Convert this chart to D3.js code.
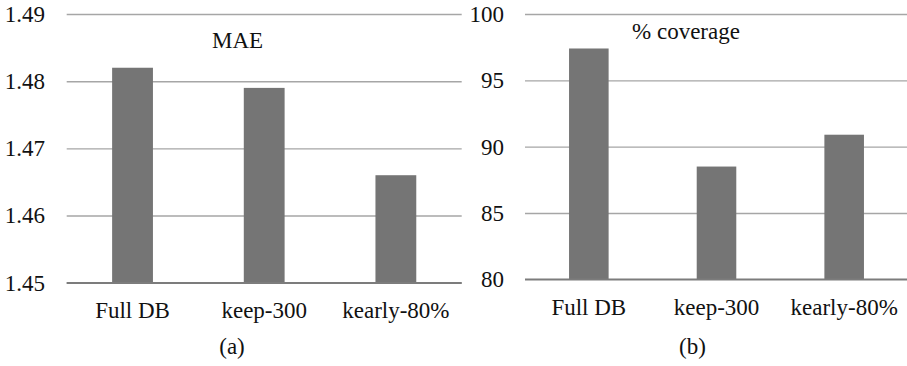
<!DOCTYPE html>
<html>
<head>
<meta charset="utf-8">
<script src="https://cdn.jsdelivr.net/npm/d3@7"></script>
<style>
  html, body { margin: 0; padding: 0; background: #fff; }
  svg { display: block; }
  svg text { font-family: 'Liberation Serif', 'Times New Roman', Times, 'DejaVu Serif', serif !important; fill: #111; }
</style>
</head>
<body>
<svg id="chart" width="907" height="366"></svg>
<script>
// Methods compared in both panels
const categories = ["Full DB", "keep-300", "kearly-80%"];

// Panel (a): mean absolute error
const maeValues = [1.482, 1.479, 1.466];
const maeTicks = [1.45, 1.46, 1.47, 1.48, 1.49];

// Panel (b): percentage of coverage
const coverageValues = [97.4, 88.5, 90.9];
const coverageTicks = [80, 85, 90, 95, 100];

const svg = d3.select("#chart");
const FONT = 23;
const SERIF = "'Liberation Serif', 'Times New Roman', Times, 'DejaVu Serif', serif";
const BAR = "#757575";
const GRID = "#a6a6a6";
const BASE = "#7c7c7c";

function panel(opts) {
  const x = d3.scaleBand()
    .domain(categories)
    .range([opts.x0, opts.x1])
    .paddingInner(0.69)
    .paddingOuter(0.345);
  const y = d3.scaleLinear()
    .domain([opts.ticks[0], opts.ticks[opts.ticks.length - 1]])
    .range([opts.yBottom, opts.yTop]);

  const g = svg.append("g");

  // value axis with horizontal gridlines
  const yAxis = d3.axisLeft(y)
    .tickValues(opts.ticks)
    .tickFormat(opts.format)
    .tickSize(-(opts.x1 - opts.x0))
    .tickPadding(opts.x0 - opts.labelEnd);
  const ya = g.append("g")
    .attr("transform", `translate(${opts.x0},0)`)
    .call(yAxis)
    .attr("font-family", null)
    .attr("font-size", null);
  ya.select(".domain").remove();
  ya.selectAll(".tick line")
    .attr("stroke", (d, i) => i === 0 ? BASE : GRID)
    .attr("stroke-width", 1.4);
  ya.selectAll(".tick text")
    .style("font-size", FONT + "px")
    .style("font-family", SERIF);

  // bars
  g.append("g").selectAll("rect")
    .data(opts.values)
    .join("rect")
    .attr("x", (d, i) => x(categories[i]))
    .attr("width", x.bandwidth())
    .attr("y", d => y(d))
    .attr("height", d => y(opts.ticks[0]) - y(d))
    .attr("fill", BAR);

  // redraw baseline over the bars
  g.append("line")
    .attr("x1", opts.x0).attr("x2", opts.x1)
    .attr("y1", y(opts.ticks[0])).attr("y2", y(opts.ticks[0]))
    .attr("stroke", BASE).attr("stroke-width", 1.4);

  // category axis
  const xAxis = d3.axisBottom(x).tickSize(0).tickPadding(0);
  const xa = g.append("g")
    .attr("transform", `translate(0,${opts.yBottom})`)
    .call(xAxis)
    .attr("font-family", null)
    .attr("font-size", null);
  xa.select(".domain").remove();
  xa.selectAll(".tick text")
    .attr("dy", null)
    .attr("y", 35.5)
    .style("font-size", FONT + "px")
    .style("font-family", SERIF);

  // chart title
  g.append("text")
    .attr("x", opts.titleX).attr("y", opts.titleY)
    .attr("text-anchor", "middle")
    .style("font-size", FONT + "px")
    .style("font-family", SERIF)
    .text(opts.title);

  // panel label
  g.append("text")
    .attr("x", opts.subX).attr("y", 354)
    .attr("text-anchor", "middle")
    .style("font-size", FONT + "px")
    .style("font-family", SERIF)
    .text(opts.sub);
}

panel({
  x0: 66.7, x1: 461.7, yTop: 14, yBottom: 282.7, labelEnd: 45,
  ticks: maeTicks, values: maeValues, format: d3.format(".2f"),
  title: "MAE", titleX: 237.5, titleY: 48.3,
  sub: "(a)", subX: 232
});

panel({
  x0: 525, x1: 908, yTop: 14, yBottom: 279.3, labelEnd: 504,
  ticks: coverageTicks, values: coverageValues, format: d3.format("d"),
  title: "% coverage", titleX: 686, titleY: 39,
  sub: "(b)", subX: 692.5
});
</script>
</body>
</html>
